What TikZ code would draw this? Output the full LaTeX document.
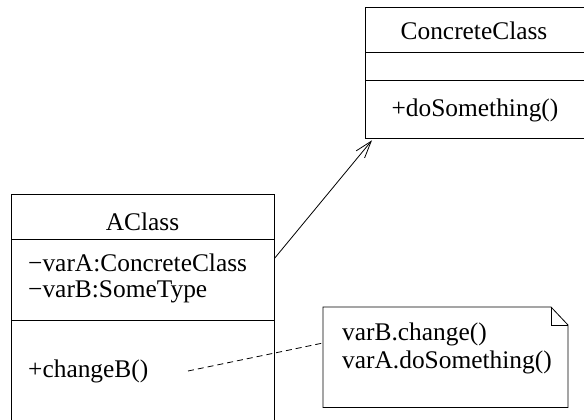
\documentclass[tikz,border=0pt]{standalone}
\usepackage{fontspec}
\setmainfont{Liberation Serif}
\usetikzlibrary{arrows.meta}
\begin{document}
\begin{tikzpicture}[x=1pt,y=-1pt,
  umlline/.style={draw=black,line width=0.8pt},
  box/.style={umlline,rectangle,inner sep=0pt,anchor=north west},
  txt/.style={inner sep=0pt,font=\fontsize{25.4}{30}\selectfont},
  assoc/.style={umlline,-{Straight Barb[length=17pt,width=11pt,line width=0.8pt]}},
  noteline/.style={umlline,dash pattern=on 6pt off 4pt}]
\clip (0,0) rectangle (584,420);
\fill[white] (0,0) rectangle (584,420);

% class AClass (its bottom edge lies below the frame)
\node[box,minimum width=263pt,minimum height=240pt] (aclass) at (11,194) {};
\draw[umlline] (11,239) -- (274,239);
\draw[umlline] (11,320) -- (274,320);
\node[txt,anchor=base] (aname) at (142.5,230) {AClass};
\node[txt,anchor=base west] (avara) at (28,271) {−varA:ConcreteClass};
\node[txt,anchor=base west] (avarb) at (28,297) {−varB:SomeType};
\node[txt,anchor=base west] (achg) at (28,377) {+changeB()};

% class ConcreteClass (its right edge lies beyond the frame)
\node[box,minimum width=222pt,minimum height=131pt] (concrete) at (365,7) {};
\draw[umlline] (365,52) -- (587,52);
\draw[umlline] (365,80) -- (587,80);
\node[txt,anchor=base] (cname) at (474,40) {ConcreteClass};
\node[txt,anchor=base] (cop) at (475,117) {+doSomething()};

% note with folded corner
\node[inner sep=0pt,minimum width=245pt,minimum height=100pt,anchor=north west] (note) at (323,307) {};
\draw[umlline] (note.north west) -- ++(228,0) -- ++(17,18) |- (note.south west) -- cycle;
\draw[umlline] ([xshift=228pt]note.north west) -- ++(0,18) -- ++(17,0);
\node[txt,anchor=base west] (n1) at (342,340) {varB.change()};
\node[txt,anchor=base west] (n2) at (342,368) {varA.doSomething()};

% association AClass -> ConcreteClass
\coordinate (astart) at (aclass.north east |- 0,258);
\coordinate (aend) at ([shift={(7pt,-1.5pt)}]concrete.south west);
\draw[assoc] (astart) -- (aend);

% note attachment to the operation
\coordinate (nstart) at (188,371);
\coordinate (nend) at (note.west |- 0,343);
\draw[noteline] (nstart) -- (nend);
\end{tikzpicture}
\end{document}
